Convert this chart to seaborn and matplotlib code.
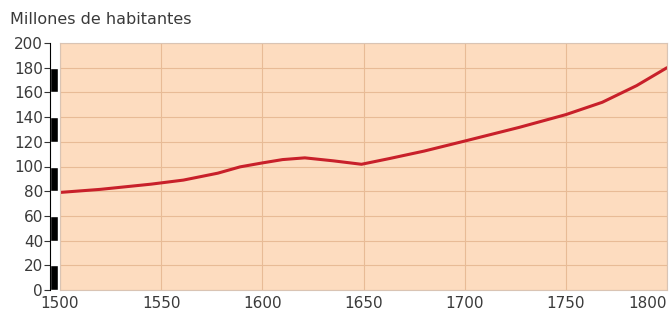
import matplotlib
matplotlib.use("Agg")
import matplotlib.pyplot as plt
import pandas as pd
import seaborn as sns

years = [1500, 1520, 1545, 1561, 1578, 1589, 1600, 1610, 1621, 1635, 1649, 1663, 1680, 1701, 1727, 1750, 1768, 1785, 1800]
population = [79, 81.5, 85.7, 89, 94.6, 99.7, 102.9, 105.6, 107, 104.6, 101.8, 106.5, 112.5, 121, 131.7, 142, 152, 165.5, 180]
x_ticks = [1500, 1550, 1600, 1650, 1700, 1750, 1800]
y_ticks = [0, 20, 40, 60, 80, 100, 120, 140, 160, 180, 200]
black_bottoms = [0, 40, 80, 120, 160]

df = pd.DataFrame({"year": years, "pop": population})

sns.set_style("white")
plt.rcParams['font.family'] = ['DejaVu Sans']

fig = plt.figure(figsize=(6.72, 3.13), dpi=100)
ax = fig.add_axes([60/672, 1 - 290/313, 607/672, 247/313])
ax.set_facecolor("#fddcbf")

sns.lineplot(data=df, x="year", y="pop", ax=ax, color="#c8202a", linewidth=2.2)

ax.set_xlim(1500, 1800)
ax.set_ylim(0, 200)
ax.set_xticks(x_ticks)
ax.set_yticks(y_ticks)
ax.grid(True, color="#e8bb96", linewidth=0.8)
ax.set_axisbelow(True)
ax.tick_params(axis="x", labelsize=11, labelcolor="#3a3a3a", length=0, pad=4)
ax.tick_params(axis="y", left=False, labelleft=False)
ax.set_xlabel("")
ax.set_ylabel("")
xl = ax.get_xticklabels()
xl[-1].set_horizontalalignment("right")
for s in ax.spines.values():
    s.set_color("#d9c4b4")
    s.set_linewidth(0.8)

# striped scale bar on the left
bx = fig.add_axes([50/672, 1 - 290/313, 8/672, 247/313])
bx.bar([0.5] * len(black_bottoms), [20] * len(black_bottoms), bottom=black_bottoms, width=1, color="black")
bx.set_xlim(0, 1)
bx.set_ylim(0, 200)
bx.set_xticks([])
bx.set_yticks(y_ticks)
bx.tick_params(axis="y", left=True, length=4, width=0.8, color="#333333", labelsize=11, labelcolor="#3a3a3a", pad=1)
for k, s in bx.spines.items():
    s.set_visible(k == "left")
bx.spines["left"].set_color("black")

fig.text(10/672, 1 - 20/313, "Millones de habitantes", fontsize=11.5, color="#3a3a3a", va="center", ha="left")

fig.savefig("out.png", dpi=100)
